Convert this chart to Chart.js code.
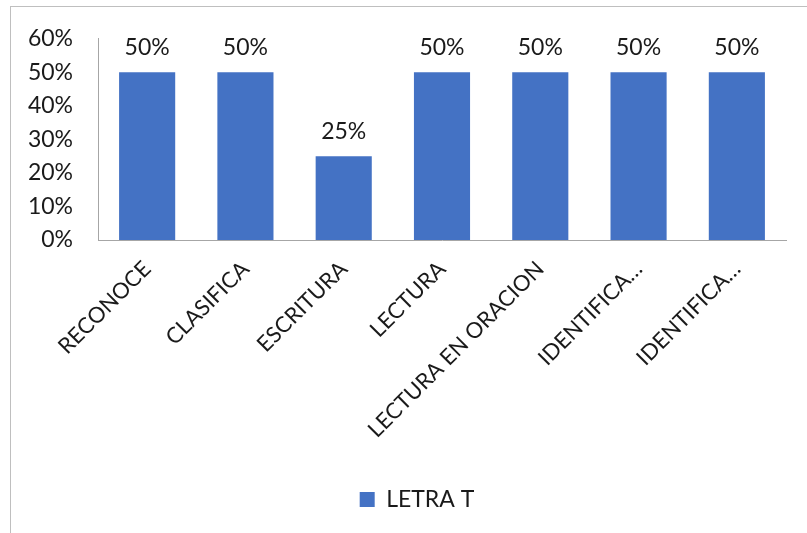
<!DOCTYPE html>
<html>
<head>
<meta charset="utf-8">
<script src="https://cdn.jsdelivr.net/npm/chart.js@4.4.1/dist/chart.umd.min.js"></script>
<style>
  html, body { margin: 0; padding: 0; background: #fff; }
  #wrap { position: relative; width: 807px; height: 533px; overflow: hidden; }
  #frame { position: absolute; left: 10px; top: 6px; width: 820px; height: 560px;
           border-left: 1px solid #bfbfbf; border-top: 1px solid #bfbfbf; }
  canvas { position: absolute; left: 0; top: 0; }
</style>
</head>
<body>
<div id="wrap">
  <div id="frame"></div>
  <canvas id="myChart" width="807" height="533"></canvas>
</div>
<script>
// categories and values
const categories = ['RECONOCE', 'CLASIFICA', 'ESCRITURA', 'LECTURA', 'LECTURA EN ORACION', 'IDENTIFICA…', 'IDENTIFICA…'];
const letraT = [0.50, 0.50, 0.25, 0.50, 0.50, 0.50, 0.50];
const yTicks = [0, 0.1, 0.2, 0.3, 0.4, 0.5, 0.6];

const fontFamily = 'Lato, "Open Sans", sans-serif';
const textColor = '#1a1a1a';

// draws the value above each bar
const valueLabels = {
    id: 'valueLabels',
    afterDatasetsDraw(chart) {
        const ctx = chart.ctx;
        const meta = chart.getDatasetMeta(0);
        ctx.save();
        ctx.font = '23px ' + fontFamily;
        ctx.fillStyle = textColor;
        ctx.textAlign = 'center';
        ctx.textBaseline = 'alphabetic';
        meta.data.forEach((bar, i) => {
            ctx.fillText(Math.round(letraT[i] * 100) + '%', bar.x, bar.y - 17);
        });
        ctx.restore();
    }
};

// the legend sits centred under the whole frame, a bit right of the canvas centre
const legendShift = {
    id: 'legendShift',
    afterLayout(chart) {
        chart.legend.left += 24;
        chart.legend.right += 24;
    }
};

const ctx = document.getElementById('myChart').getContext('2d');
const myChart = new Chart(ctx, {
    type: 'bar',
    data: {
        labels: categories,
        datasets: [{
            label: 'LETRA T',
            data: letraT,
            backgroundColor: '#4472C4',
            barPercentage: 0.571,
            categoryPercentage: 1.0
        }]
    },
    options: {
        responsive: false,
        animation: false,
        layout: { padding: { left: 0, right: 21, top: 33, bottom: 12 } },
        plugins: {
            tooltip: { enabled: false },
            legend: {
                position: 'bottom',
                labels: {
                    font: { size: 23, family: fontFamily },
                    color: textColor,
                    boxWidth: 15,
                    boxHeight: 15,
                    padding: 10
                }
            }
        },
        scales: {
            x: {
                grid: { display: false, drawTicks: false },
                border: { display: true, color: '#a6a6a6', width: 1 },
                ticks: {
                    font: { size: 22, family: fontFamily },
                    color: textColor,
                    maxRotation: 45,
                    minRotation: 45,
                    autoSkip: false,
                    padding: 16
                },
                afterFit(scale) { scale.height = 238; }
            },
            y: {
                min: 0,
                max: 0.6,
                grid: { display: false, drawTicks: false },
                border: { display: true, color: '#a6a6a6', width: 1 },
                afterBuildTicks(scale) { scale.ticks = yTicks.map(v => ({ value: v })); },
                ticks: {
                    font: { size: 23, family: fontFamily },
                    color: textColor,
                    padding: 25,
                    callback: v => Math.round(v * 100) + '%'
                },
                afterFit(scale) { scale.width = 98; }
            }
        }
    },
    plugins: [valueLabels, legendShift]
});
</script>
</body>
</html>
